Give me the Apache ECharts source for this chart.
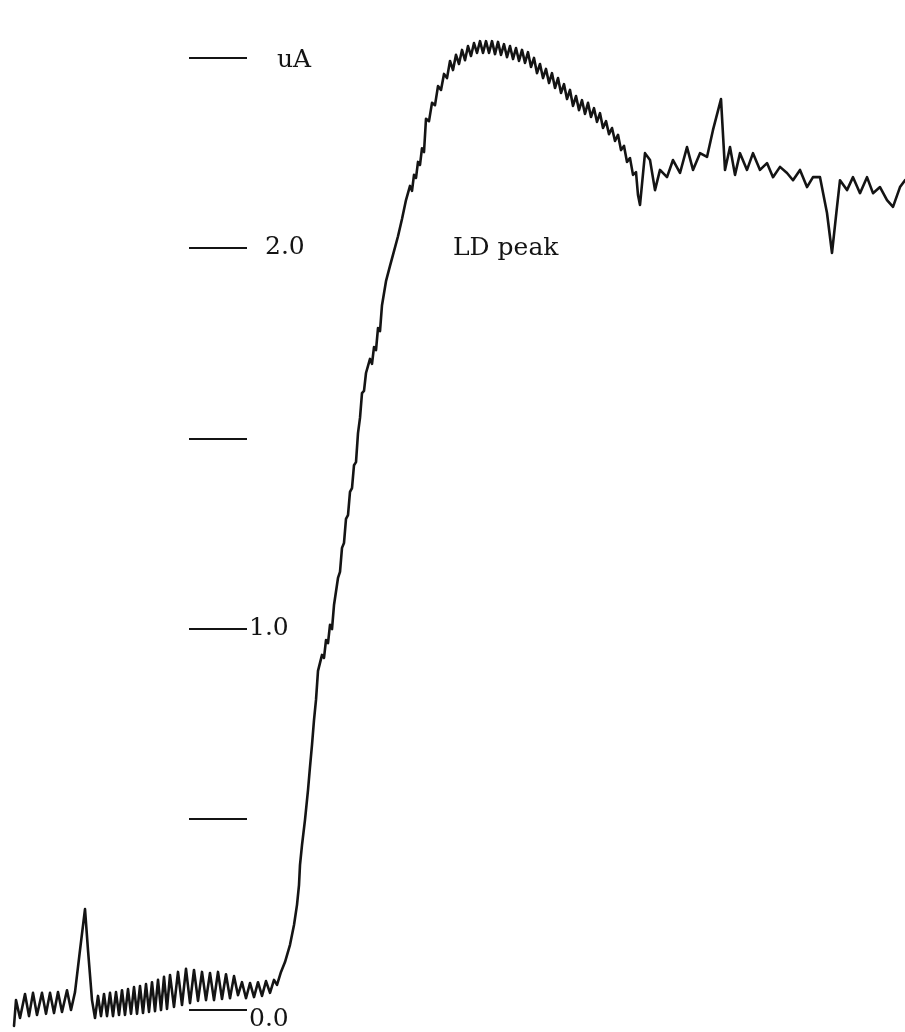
<!DOCTYPE html>
<html>
<head>
<meta charset="utf-8">
<title>LD peak</title>
<script src="https://cdn.jsdelivr.net/npm/echarts@6/dist/echarts.min.js"></script>
<style>
  html, body { margin: 0; padding: 0; background: #ffffff; }
  #chart { width: 905px; height: 1032px; }
</style>
</head>
<body>
<div id="chart"></div>
<script>
// Recorder trace: pen position along the chart paper (scan units) and current (uA)
const scanPos = [
  // baseline before the step
  14, 16, 20, 25, 29, 33, 37, 42, 46, 50, 54, 58, 62, 67, 71, 75, 80, 85, 88, 92, 95,
  98, 101, 104, 107, 110, 113, 116, 119, 122, 125, 128, 131, 134, 137, 140, 143, 146, 149,
  152, 155, 158, 161, 164, 167, 170, 174, 178, 182, 186, 190, 194, 198, 202, 206, 210, 214,
  218, 222, 226, 230, 234, 238, 242, 246, 250, 254, 258, 262, 266, 270, 274, 277,
  // onset of the rise
  281, 285, 290, 294, 297, 299, 300, 302, 305, 308, 310, 312, 314, 316,
  // steep rise
  318, 320, 322, 324, 326, 328, 330, 332, 334, 336, 338, 340, 342, 344, 346, 348, 350, 352,
  354, 356, 358, 360, 362, 364, 366, 368, 370, 372, 374, 376, 378, 380, 382, 384, 386, 388,
  390, 392, 394, 396, 398, 400, 402, 404, 406, 408, 410, 412, 414, 416, 418, 420, 422, 424,
  // LD peak and decay
  426, 429, 432, 435, 438, 441, 444, 447, 450, 453, 456, 459, 462, 465, 468, 471, 474, 477,
  480, 483, 486, 489, 492, 495, 498, 501, 504, 507, 510, 513, 516, 519, 522, 525, 528, 531,
  534, 537, 540, 543, 546, 549, 552, 555, 558, 561, 564, 567, 570, 573, 576, 579, 582, 585,
  588, 591, 594, 597, 600, 603, 606, 609, 612, 615, 618, 621, 624, 627, 630, 633, 636, 638, 640,
  // plateau
  645, 650, 655, 660, 667, 673, 680, 687, 693, 700, 707, 713, 721, 725, 730, 735, 740, 747,
  753, 760, 767, 773, 780, 787, 793, 800, 807, 813, 820, 827, 832, 837, 840, 847, 853, 860,
  867, 873, 880, 887, 893, 900, 905
];

const currentUA = [
  -0.042, 0.026, -0.021, 0.042, -0.016, 0.045, -0.013, 0.045, -0.010, 0.045, -0.008, 0.047,
  -0.005, 0.052, 0.000, 0.047, 0.157, 0.265, 0.157, 0.026, -0.021,
  0.037, -0.016, 0.042, -0.016, 0.045, -0.016, 0.047, -0.013, 0.052, -0.013, 0.055, -0.010,
  0.060, -0.010, 0.063, -0.008, 0.068, -0.005, 0.073, -0.003, 0.079, 0.000, 0.087, 0.003,
  0.092, 0.008, 0.100, 0.013, 0.108, 0.018, 0.105, 0.024, 0.100, 0.026, 0.097, 0.026, 0.100,
  0.029, 0.094, 0.031, 0.089, 0.039, 0.073, 0.031, 0.071, 0.034, 0.073, 0.037, 0.076, 0.045,
  0.079, 0.066,
  0.100, 0.126, 0.171, 0.223, 0.276, 0.328, 0.381, 0.433, 0.499, 0.577, 0.638, 0.696, 0.761, 0.814,
  0.890, 0.885, 0.932, 0.924, 0.971, 0.963, 1.011, 1.000, 1.063, 1.058, 1.134, 1.150, 1.213,
  1.226, 1.289, 1.299, 1.360, 1.370, 1.430, 1.438, 1.514, 1.554, 1.619, 1.625, 1.672, 1.667,
  1.709, 1.696, 1.740, 1.732, 1.790, 1.782, 1.850, 1.848, 1.913, 1.908, 1.953, 1.948, 1.992,
  1.987, 2.031, 2.026, 2.076, 2.071, 2.126, 2.121, 2.163, 2.150, 2.192, 2.184, 2.226, 2.218,
  2.262, 2.252,
  2.339, 2.333, 2.381, 2.375, 2.425, 2.415, 2.457, 2.446, 2.491, 2.467, 2.507, 2.483, 2.520,
  2.493, 2.530, 2.504, 2.538, 2.512, 2.543, 2.512, 2.543, 2.512, 2.543, 2.509, 2.541, 2.507,
  2.535, 2.501, 2.530, 2.496, 2.525, 2.491, 2.520, 2.486, 2.514, 2.475, 2.499, 2.459, 2.483,
  2.446, 2.470, 2.433, 2.459, 2.420, 2.446, 2.407, 2.430, 2.391, 2.415, 2.373, 2.399, 2.362,
  2.388, 2.352, 2.381, 2.344, 2.367, 2.331, 2.354, 2.315, 2.333, 2.299, 2.315, 2.281, 2.297,
  2.257, 2.268, 2.226, 2.236, 2.192, 2.199, 2.139, 2.113,
  2.249, 2.231, 2.152, 2.205, 2.186, 2.231, 2.197, 2.265, 2.205, 2.249, 2.239, 2.310, 2.391,
  2.205, 2.265, 2.192, 2.249, 2.205, 2.249, 2.205, 2.223, 2.186, 2.213, 2.197, 2.178, 2.205,
  2.160, 2.186, 2.186, 2.092, 1.987, 2.108, 2.178, 2.152, 2.186, 2.144, 2.186, 2.144, 2.160,
  2.126, 2.108, 2.160, 2.178
];

// Scale marks and their captions
const tickValues = [0, 0.5, 1.0, 1.5, 2.0, 2.5];
const labelValues = [0, 1.0, 2.0, 2.5];
const labelTexts = { '0': '0.0', '1': '1.0', '2': '2.0', '2.5': 'uA' };
const noteText = 'LD peak';

const Y_MIN = -0.0577;
const Y_MAX = 2.651;
const INK = '#141414';
const FONT = 'DejaVu Serif';
const FONT_SIZE = 25;

const chart = echarts.init(document.getElementById('chart'), null, { renderer: 'canvas' });

const traceData = scanPos.map((x, i) => [x, currentUA[i]]);

chart.setOption({
  backgroundColor: '#ffffff',
  animation: false,
  title: {
    text: noteText,
    left: 453,
    top: 236,
    padding: 0,
    textStyle: { fontFamily: FONT, fontSize: FONT_SIZE, fontWeight: 'normal', color: INK }
  },
  grid: [
    { left: 0, right: 0, top: 0, bottom: 0, containLabel: false },
    { left: 247, right: 0, top: 0, bottom: 0, containLabel: false }
  ],
  xAxis: [
    { type: 'value', gridIndex: 0, min: 0, max: 905, show: false },
    { type: 'value', gridIndex: 1, min: 0, max: 1, show: false }
  ],
  yAxis: [
    { type: 'value', gridIndex: 0, min: Y_MIN, max: Y_MAX, show: false },
    {
      type: 'value',
      gridIndex: 1,
      min: Y_MIN,
      max: Y_MAX,
      position: 'left',
      axisLine: { show: false },
      splitLine: { show: false },
      axisTick: {
        show: true,
        inside: false,
        length: 58,
        customValues: tickValues,
        lineStyle: { color: INK, width: 2 }
      },
      axisLabel: {
        show: true,
        inside: true,
        margin: 0,
        customValues: labelValues,
        fontFamily: FONT,
        fontSize: FONT_SIZE,
        color: INK,
        formatter: function (v) {
          const key = String(Math.round(v * 10) / 10);
          const t = labelTexts[key];
          if (!t) return '';
          if (t === 'uA') return '{u|' + t + '}';
          if (t === '2.0') return '{b|' + t + '}';
          if (t === '0.0') return '{z|' + t + '}';
          return '{o|' + t + '}';
        },
        rich: {
          u: { fontFamily: FONT, fontSize: FONT_SIZE, color: INK, padding: [6, 0, 0, 30] },
          b: { fontFamily: FONT, fontSize: FONT_SIZE, color: INK, padding: [0, 0, 0, 18] },
          o: { fontFamily: FONT, fontSize: FONT_SIZE, color: INK, padding: [0, 0, 0, 2] },
          z: { fontFamily: FONT, fontSize: FONT_SIZE, color: INK, padding: [20, 0, 0, 2] }
        }
      }
    }
  ],
  series: [
    {
      type: 'line',
      xAxisIndex: 0,
      yAxisIndex: 0,
      data: traceData,
      showSymbol: false,
      smooth: false,
      lineStyle: { color: INK, width: 2.6, join: 'round', cap: 'round' },
      silent: true
    }
  ]
});
</script>
</body>
</html>
